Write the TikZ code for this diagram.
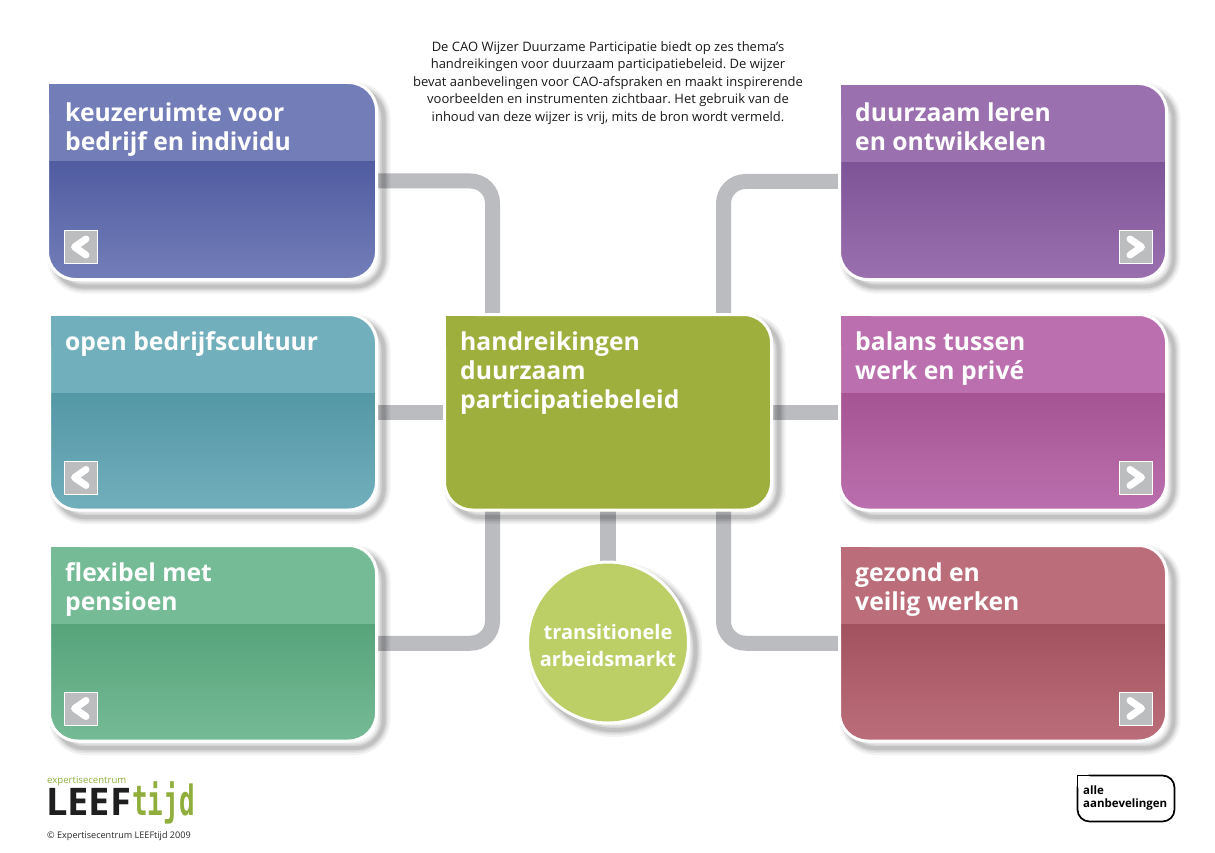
\documentclass[tikz,border=0pt]{standalone}
\usepackage{fontspec}
\setmainfont{Open Sans}
\newfontfamily\logofont{DejaVu Sans Mono}
\usetikzlibrary{backgrounds}
\definecolor{linkgrey}{HTML}{BBBCBF}
\definecolor{btngrey}{HTML}{BCBDBF}
\definecolor{handgreen}{HTML}{9FAF3D}
\definecolor{transgreen}{HTML}{BCCF66}
\definecolor{leefgreen}{HTML}{8FAE3C}
\definecolor{keuzelight}{HTML}{737EB9}
\definecolor{keuzedark}{HTML}{4F5CA0}
\definecolor{openlight}{HTML}{72AFBC}
\definecolor{opendark}{HTML}{5497A5}
\definecolor{flexlight}{HTML}{75BB95}
\definecolor{flexdark}{HTML}{57A47B}
\definecolor{duurlight}{HTML}{9A70AF}
\definecolor{duurdark}{HTML}{7E5498}
\definecolor{balanslight}{HTML}{BB6FAE}
\definecolor{balansdark}{HTML}{A65493}
\definecolor{gezondlight}{HTML}{BB6E79}
\definecolor{gezonddark}{HTML}{A2525F}
\tikzset{
  softshadow/.style={
    preaction={draw=black, line width=14pt, opacity=.05, transform canvas={shift={(7pt,-7pt)}}},
    preaction={draw=black, line width=10pt, opacity=.06, transform canvas={shift={(7pt,-7pt)}}},
    preaction={draw=black, line width=7pt, opacity=.07, transform canvas={shift={(7pt,-7pt)}}},
    preaction={draw=black, line width=4pt, opacity=.09, transform canvas={shift={(7pt,-7pt)}}}},
  card/.style 2 args={shape=rectangle, draw=white, line width=3pt, inner sep=0pt, outer sep=0pt, rounded corners=28pt,
    softshadow,
    path picture={
      \fill[#1, sharp corners] (path picture bounding box.north west) rectangle ([yshift=-79pt]path picture bounding box.north east);
      \shade[top color=#2, bottom color=#1, sharp corners] ([yshift=-79pt]path picture bounding box.north west) rectangle (path picture bounding box.south east);
    }},
  title/.style={anchor=north west, inner sep=0pt, text=white, font=\bfseries\fontsize{24.7}{29}\selectfont, align=left},
  link/.style={draw=linkgrey, line width=15pt, rounded corners=22pt},
  btn/.style={shape=rectangle, draw=white, line width=1pt, fill=btngrey, minimum size=33pt, inner sep=0pt},
  backbtn/.style={btn, path picture={\draw[white, line width=7pt, line cap=round, line join=round] (5.5,-8) -- (-6,0) -- (5.5,8);}},
  nextbtn/.style={btn, path picture={\draw[white, line width=7pt, line cap=round, line join=round] (-5.5,-8) -- (6,0) -- (-5.5,8);}}
}
\begin{document}
\frenchspacing
\begin{tikzpicture}[x=1pt,y=-1pt]
  \useasboundingbox (0,0) rectangle (1215,853);
  \node (intro) at (608,41) [anchor=north, inner sep=0pt, align=center, text=black!90, font=\fontsize{13}{17.5}\selectfont] {De CAO Wijzer Duurzame Participatie biedt op zes thema's\\handreikingen voor duurzaam participatiebeleid. De wijzer\\bevat aanbevelingen voor CAO-afspraken en maakt inspirerende\\voorbeelden en instrumenten zichtbaar. Het gebruik van de\\inhoud van deze wijzer is vrij, mits de bron wordt vermeld.};

  % centre
  \node (hand) [card={handgreen}{handgreen}, minimum width=327pt, minimum height=195.5pt] at (608,412.25) {};
  \fill [handgreen] ([shift={(1.5,1.5)}]hand.north west) rectangle +(30,30);
  \node (handtitle) [title] at (460,331.5) {handreikingen\\duurzaam\\participatiebeleid};
  \node (trans) [shape=circle, draw=white, line width=3pt, fill=transgreen, minimum size=161pt, inner sep=0pt, softshadow] at (608,642.5) {};
  \node (transtitle) [align=center, inner sep=0pt, text=white, font=\bfseries\fontsize{20}{27}\selectfont] at (608,645) {transitionele\\arbeidsmarkt};

  % left column
  \node (keuze) [card={keuzelight}{keuzedark}, minimum width=329pt, minimum height=197pt] at (212,181) {};
  \fill [keuzelight] ([shift={(1.5,1.5)}]keuze.north west) rectangle +(30,30);
  \node (keuzetitle) [title] at (65,102.5) {keuzeruimte voor\\bedrijf en individu};
  \node (keuzebtn) [backbtn] at (80.5,247) {};
  \node (open) [card={openlight}{opendark}, minimum width=327pt, minimum height=195.5pt] at (213,412.25) {};
  \fill [openlight] ([shift={(1.5,1.5)}]open.north west) rectangle +(30,30);
  \node (opentitle) [title] at (65,331.5) {open bedrijfscultuur};
  \node (openbtn) [backbtn] at (80.5,477.5) {};
  \node (flex) [card={flexlight}{flexdark}, minimum width=327pt, minimum height=195.5pt] at (213,643.25) {};
  \fill [flexlight] ([shift={(1.5,1.5)}]flex.north west) rectangle +(30,30);
  \node (flextitle) [title] at (65,562.5) {flexibel met\\pensioen};
  \node (flexbtn) [backbtn] at (80.5,708.5) {};

  % right column
  \node (duur) [card={duurlight}{duurdark}, minimum width=327pt, minimum height=196pt] at (1003,181.5) {};
  \fill [duurlight] ([shift={(1.5,1.5)}]duur.north west) rectangle +(30,30);
  \node (duurtitle) [title] at (855,102.5) {duurzaam leren\\en ontwikkelen};
  \node (duurbtn) [nextbtn] at (1135.5,247) {};
  \node (balans) [card={balanslight}{balansdark}, minimum width=327pt, minimum height=195.5pt] at (1003,412.25) {};
  \fill [balanslight] ([shift={(1.5,1.5)}]balans.north west) rectangle +(30,30);
  \node (balanstitle) [title] at (855,331.5) {balans tussen\\werk en privé};
  \node (balansbtn) [nextbtn] at (1135.5,477.5) {};
  \node (gezond) [card={gezondlight}{gezonddark}, minimum width=327pt, minimum height=195.5pt] at (1003,643.25) {};
  \fill [gezondlight] ([shift={(1.5,1.5)}]gezond.north west) rectangle +(30,30);
  \node (gezondtitle) [title] at (855,562.5) {gezond en\\veilig werken};
  \node (gezondbtn) [nextbtn] at (1135.5,708.5) {};

  \begin{scope}[on background layer]
    \draw [link] (keuze.east) -| ([xshift=-115.5pt]hand.north);
    \draw [link] (duur.west) -| ([xshift=115.5pt]hand.north);
    \draw [link] (open.east) -- (hand.west |- open.east);
    \draw [link] (balans.west) -- (hand.east |- balans.west);
    \draw [link] (flex.east) -| ([xshift=-115.5pt]hand.south);
    \draw [link] (gezond.west) -| ([xshift=115.5pt]hand.south);
    \draw [link, line width=16pt] (hand.south) -- (trans.north);
  \end{scope}

  % logo and footer
  \node (logotop) at (47,781.5) [anchor=west, inner sep=0pt, text=leefgreen, font=\fontsize{9.6}{12}\selectfont] {expertisecentrum};
  \node (logoleef) at (46,801.5) [anchor=west, inner sep=0pt, text=black!88, font=\bfseries\fontsize{38}{40}\selectfont] {LEEF};
  \node (logotijd) at (132,803) [anchor=west, inner sep=0pt, text=leefgreen, font=\logofont\bfseries\fontsize{26}{28}\selectfont] {\scalebox{1}[1.6]{tijd}};
  \node (copyright) at (47,836.5) [anchor=west, inner sep=0pt, text=black!85, font=\fontsize{9.1}{10}\selectfont] {© Expertisecentrum LEEFtijd 2009};

  \node (allebtn) at (1126,798.5) [shape=rectangle, draw=black, line width=1.7pt, rounded corners=12pt, minimum width=97pt, minimum height=46pt, inner sep=0pt, outer sep=0pt] {};
  \draw [black, fill=white, line width=1.7pt] ([yshift=-13pt]allebtn.north west) |- ([xshift=13pt]allebtn.north west);
  \node (alletext) at (1083,798) [anchor=west, inner sep=0pt, align=left, text=black, font=\bfseries\fontsize{11.5}{13}\selectfont] {alle\\aanbevelingen};
\end{tikzpicture}
\end{document}
